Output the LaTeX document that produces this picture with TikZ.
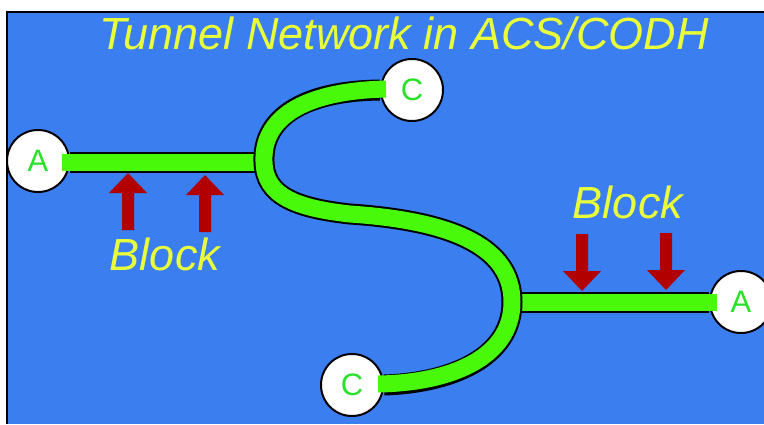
\documentclass[tikz,border=0pt]{standalone}
\usepackage{fontspec}
\setmainfont{Liberation Sans}
\definecolor{panelblue}{RGB}{59,126,240}
\definecolor{ttlyellow}{RGB}{232,255,58}
\definecolor{tubegreen}{RGB}{72,250,10}
\definecolor{lettergreen}{RGB}{40,225,40}
\definecolor{arrowred}{RGB}{178,0,0}
\tikzset{
  endcap/.style={circle, fill=white, draw=black, line width=2pt, minimum size=62pt,
    inner sep=0pt, text=lettergreen, font=\fontsize{31}{31}\selectfont},
  tubeout/.style={draw=black, line width=21pt},
  tubein/.style={draw=tubegreen, line width=17pt},
  caption/.style={text=ttlyellow, font=\itshape\fontsize{45}{50}\selectfont, anchor=base, inner sep=0pt},
  uparrow/.pic={\fill[arrowred] (0,0) -- (19,20) -- (6,20) -- (6,57) -- (-6,57) -- (-6,20) -- (-19,20) -- cycle;},
  downarrow/.pic={\fill[arrowred] (0,0) -- (19,-20) -- (6,-20) -- (6,-57) -- (-6,-57) -- (-6,-20) -- (-19,-20) -- cycle;}
}
\begin{document}
\begin{tikzpicture}[x=1pt,y=-1pt]
\useasboundingbox (0,0) rectangle (764,424);
% background panel
\fill[panelblue] (7,12) rectangle (764,424);
\draw[black, line width=2.5pt] (7,424) -- (7,12) -- (764,12);

% title
\node[caption] (title) at (404,49) {Tunnel Network in ACS/CODH};

% end caps
\node[endcap] (A1) at (38,161) {A};
\node[endcap] (A2) at (741,302) {A};
\node[endcap] (C1) at (412,90) {C};
\node[endcap] (C2) at (352,385) {C};

% junctions and bend points of the S-shaped tunnel
\coordinate (J1) at (264,162);
\coordinate (J2) at (512,302);
\coordinate (M) at (350,214);
\coordinate (A1in) at (62,162);
\coordinate (A2in) at (717,302);
\coordinate (C1in) at (386,89);
\coordinate (C2in) at (378,384);

% straight tunnels
\draw[tubeout] (A1.east |- J1) -- (J1);
\draw[tubein] (A1in) -- (J1);
\draw[tubeout] (J2) -- (A2.west);
\draw[tubein] (J2) -- (A2in);

% S-shaped tunnel between the two C ends
\draw[tubeout] (C1.west) .. controls (300,91) and (262,120) .. (J1)
  .. controls (265,196) and (296,208) .. (M)
  .. controls (455,221) and (512,248) .. (J2)
  .. controls (512,358) and (450,383) .. (C2.east);
\draw[tubein] (C1in) .. controls (300,91) and (262,120) .. (J1)
  .. controls (265,196) and (296,208) .. (M)
  .. controls (455,221) and (512,248) .. (J2)
  .. controls (512,358) and (450,383) .. (C2in);

% block arrows
\pic at (128,173) {uparrow};
\pic at (205,175) {uparrow};
\pic at (582,291) {downarrow};
\pic at (666,290) {downarrow};

% block labels
\node[caption] (blockL) at (165,270) {Block};
\node[caption] (blockR) at (628,218) {Block};
\end{tikzpicture}
\end{document}
